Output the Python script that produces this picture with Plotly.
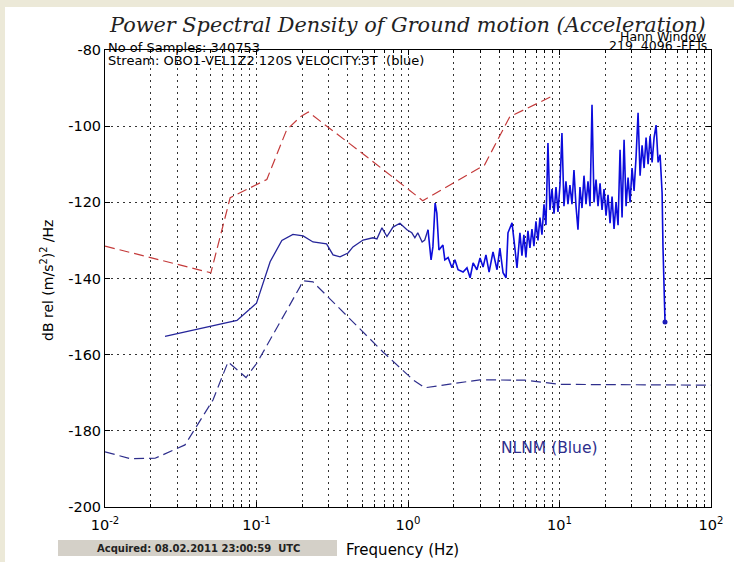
import plotly.graph_objects as go

# ---- station PSD (acceleration), Hz / dB ----
psd_freq = [
    0.0249, 0.0743, 0.100, 0.123, 0.147, 0.174, 0.203, 0.236, 0.290, 0.320,
    0.356, 0.402, 0.433, 0.505, 0.587, 0.624, 0.673, 0.726, 0.796, 0.885,
    0.984, 1.06, 1.11, 1.16, 1.24, 1.29, 1.355, 1.42, 1.46, 1.51,
    1.55, 1.60, 1.70, 1.75, 1.84, 1.95, 2.04, 2.14, 2.31, 2.45,
    2.57, 2.69, 2.85, 2.99, 3.13, 3.27, 3.43, 3.64, 3.87, 4.04,
    4.24, 4.44, 4.57, 4.86, 5.09, 5.24,
    5.48, 5.65, 5.82, 6.00, 6.19, 6.38, 6.58, 6.78, 6.99, 7.21,
    7.43, 7.66, 7.90, 8.14, 8.39, 8.65, 8.92, 9.20, 9.48, 9.77,
    10.07, 10.38, 10.70, 11.03, 11.37, 11.72, 12.09, 12.46, 12.85, 13.24,
    13.65, 14.08, 14.51, 14.96, 15.42, 15.90, 16.39, 16.90, 17.42, 17.96,
    18.52, 19.09, 19.68, 20.29, 20.91, 21.56, 22.23, 22.91, 23.62, 24.35,
    25.10, 25.88, 26.68, 27.50, 28.35, 29.23, 30.13, 31.06, 32.02, 33.01,
    34.03, 35.08, 36.17, 37.28, 38.44, 39.62, 40.85, 42.11, 43.41, 44.75,
    46.13, 47.56, 48.2, 48.9, 49.7,
]
psd_db = [
    -155.2, -151.0, -146.5, -135.6, -130.0, -128.4, -128.8, -130.4, -130.9, -133.8,
    -134.3, -133.3, -131.7, -129.9, -129.3, -129.6, -126.7, -129.0, -126.5, -125.5,
    -127.2, -128.0, -129.3, -128.0, -130.4, -129.9, -127.2, -135.1, -131.7, -120.2,
    -122.8, -132.5, -131.2, -135.1, -134.5, -137.2, -135.1, -137.7, -138.3, -137.2,
    -139.8, -135.9, -137.7, -134.6, -137.0, -133.8, -138.3, -133.0, -137.7, -132.0,
    -138.5, -139.8, -128.0, -125.4, -132.5, -137.2,
    -128.0, -134.0, -128.5, -134.5, -127.5, -132.0, -127.0, -131.5, -125.0, -130.0,
    -124.0, -128.5, -120.5, -126.0, -104.4, -122.0, -116.5, -123.0, -116.0, -122.5,
    -115.5, -101.8, -121.0, -114.5, -120.5, -115.5, -120.5, -111.5, -121.0, -127.2,
    -116.0, -121.5, -113.0, -120.5, -114.5, -121.0, -94.4, -120.0, -114.0, -121.0,
    -115.0, -122.0, -116.5, -123.5, -118.0, -125.5, -118.5, -127.0, -120.0, -126.0,
    -106.2, -124.0, -103.6, -121.0, -113.5, -120.0, -111.0, -117.0, -108.0, -96.5,
    -113.0, -105.0, -111.0, -103.0, -110.0, -102.5, -109.5, -103.0, -99.7, -109.5,
    -107.5, -117.5, -131.7, -145.6, -151.4,
]
# index where the broadband low-frequency trend gives way to the noisy part
psd_split = 26

# ---- Peterson low / high noise models ----
nlnm_freq = [0.01, 0.0146, 0.0214, 0.0337, 0.0516, 0.0649, 0.0853, 0.1007, 0.1936,
             0.2027, 0.236, 0.684, 1.08, 1.29, 2.98, 5.9, 10.07, 100.0]
nlnm_db = [-185.5, -187.3, -187.2, -183.7, -171.9, -161.9, -166.0, -162.2, -142.2,
           -140.6, -140.9, -159.3, -166.6, -168.7, -166.6, -166.7, -167.8, -168.0]

nhnm_freq = [0.01, 0.05, 0.067, 0.117, 0.158, 0.194, 0.22, 0.537, 1.2, 1.25,
             3.2, 4.7, 9.3]
nhnm_db = [-131.5, -138.5, -118.8, -114.0, -101.0, -97.6, -96.3, -108.1, -119.0, -119.6,
           -110.2, -97.5, -91.8]

# ---- axis ticks ----
x_tickvals = [0.01, 0.1, 1, 10, 100]
x_ticktext = ["10<sup>-2</sup>", "10<sup>-1</sup>", "10<sup>0</sup>",
              "10<sup>1</sup>", "10<sup>2</sup>"]
x_minor = [m * 10.0 ** e for e in range(-2, 2) for m in range(2, 10)]
y_tickvals = [-200, -180, -160, -140, -120, -100, -80]
y_ticktext = ["-200", "-180", "-160", "-140", "-120", "-100", "-80"]

assert len(psd_freq) == len(psd_db)

W, H = 734, 562
L, R, T, B = 105, 711, 50, 507  # plot box in pixels


def px(x):
    return (x - L) / (R - L)


def py(y):
    return (B - y) / (B - T)


SANS = "DejaVu Sans"
grid_dash = "2px,4px"
grid_col = "#333333"

fig = go.Figure()
fig.add_trace(go.Scatter(
    x=nhnm_freq, y=nhnm_db, mode="lines",
    line=dict(color="#c43a3a", width=1.2, dash="10px,5px"), hoverinfo="skip"))
fig.add_trace(go.Scatter(
    x=nlnm_freq, y=nlnm_db, mode="lines",
    line=dict(color="#2e2e8c", width=1.2, dash="10px,5px"), hoverinfo="skip"))
fig.add_trace(go.Scatter(
    x=psd_freq[:psd_split + 1], y=psd_db[:psd_split + 1], mode="lines",
    line=dict(color="#25259a", width=1.3), hoverinfo="skip"))
fig.add_trace(go.Scatter(
    x=psd_freq[psd_split:], y=psd_db[psd_split:], mode="lines",
    line=dict(color="#0c0cdc", width=1.6), hoverinfo="skip"))
fig.add_trace(go.Scatter(
    x=[psd_freq[-1]], y=[psd_db[-1]], mode="markers",
    marker=dict(color="#1c1cb8", size=5), hoverinfo="skip"))

axis_common = dict(
    showline=True, linecolor="black", linewidth=1, mirror="ticks",
    ticks="inside", tickcolor="black", ticklen=5,
    showgrid=True, gridcolor=grid_col, gridwidth=1, griddash=grid_dash,
    zeroline=False,
    tickfont=dict(family=SANS, size=14.5, color="black"),
)

fig.update_xaxes(
    type="log", range=[-2, 2], tickmode="array",
    tickvals=x_tickvals, ticktext=x_ticktext, ticklabelstandoff=5,
    minor=dict(tickmode="array", tickvals=x_minor, ticks="inside", ticklen=3,
               tickcolor="black", showgrid=True, gridcolor=grid_col,
               griddash=grid_dash, gridwidth=1),
    **axis_common)
fig.update_yaxes(
    range=[-200, -80], tickmode="array",
    tickvals=y_tickvals, ticktext=y_ticktext, **axis_common)

beige = "#ece9d8"
shapes = [
    dict(type="rect", xref="paper", yref="paper", x0=px(0), x1=px(W), y0=py(0), y1=py(7),
         fillcolor=beige, line_width=0, layer="below"),
    dict(type="rect", xref="paper", yref="paper", x0=px(0), x1=px(5), y0=py(0), y1=py(H),
         fillcolor=beige, line_width=0, layer="below"),
    dict(type="rect", xref="paper", yref="paper", x0=px(58), x1=px(337), y0=py(540), y1=py(556),
         fillcolor="#d4d0c8", line_width=0, layer="below"),
]

annotations = [
    dict(text="<i>Power Spectral Density of Ground motion (Acceleration)</i>",
         x=px(107), y=py(25), xanchor="left", yanchor="middle",
         font=dict(family="DejaVu Serif", size=20.8, color="#222222")),
    dict(text="No of Samples: 340753", x=px(106), y=py(47), xanchor="left", yanchor="middle",
         font=dict(family=SANS, size=13, color="black")),
    dict(text="Stream: OBO1-VEL1Z2 120S VELOCITY:3T  (blue)", x=px(106), y=py(60),
         xanchor="left", yanchor="middle", font=dict(family=SANS, size=13, color="black")),
    dict(text="Hann Window", x=px(708), y=py(37), xanchor="right", yanchor="middle",
         font=dict(family=SANS, size=12.5, color="black")),
    dict(text="219  4096 -FFTs", x=px(709), y=py(46), xanchor="right", yanchor="middle",
         font=dict(family=SANS, size=12.5, color="black")),
    dict(text="NLNM (Blue)", x=px(549), y=py(448), xanchor="center", yanchor="middle",
         font=dict(family=SANS, size=15.5, color="#2e2e8c")),
    dict(text="Frequency (Hz)", x=px(402), y=py(550), xanchor="center", yanchor="middle",
         font=dict(family=SANS, size=15, color="black")),
    dict(text="dB rel (m/s<sup>2</sup>)<sup>2</sup> /Hz", x=px(47), y=py(280),
         xanchor="center", yanchor="middle", textangle=-90,
         font=dict(family=SANS, size=14, color="black")),
    dict(text="<b>Acquired: 08.02.2011 23:00:59  UTC</b>", x=px(198), y=py(548),
         xanchor="center", yanchor="middle",
         font=dict(family=SANS, size=10, color="#222222")),
]
for a in annotations:
    a.update(xref="paper", yref="paper", showarrow=False)

fig.update_layout(
    width=W, height=H,
    margin=dict(l=L, r=W - R, t=T, b=H - B, pad=0),
    paper_bgcolor="white", plot_bgcolor="white",
    showlegend=False,
    shapes=shapes, annotations=annotations,
)

fig.write_html("out.html")
